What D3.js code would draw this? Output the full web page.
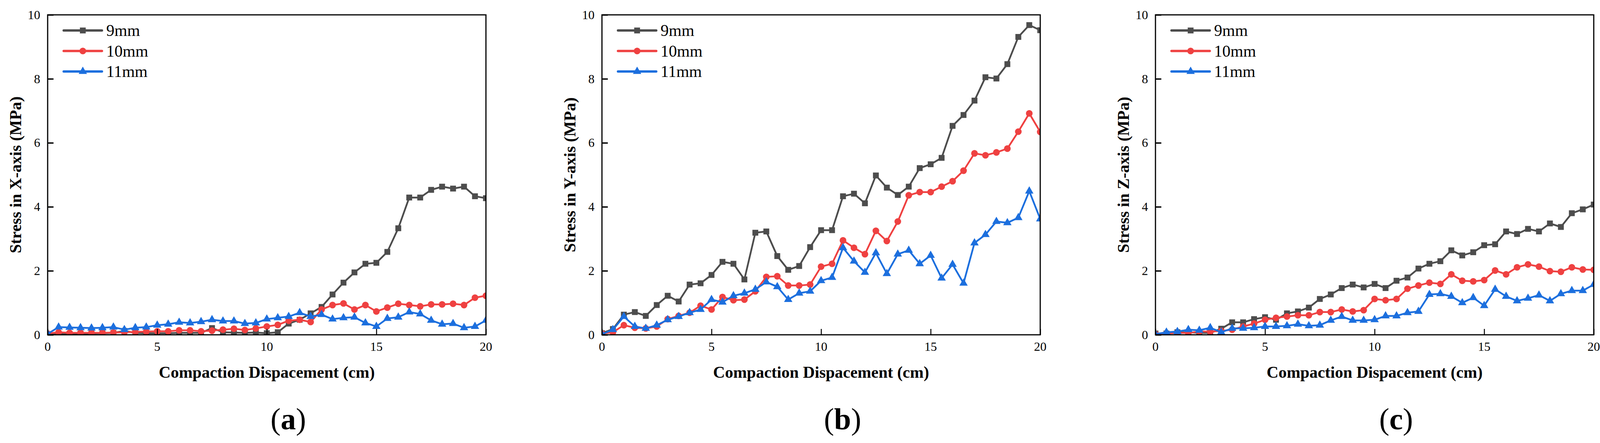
<!DOCTYPE html>
<html>
<head>
<meta charset="utf-8">
<script src="https://cdn.jsdelivr.net/npm/d3@7"></script>
<style>
  body { margin: 0; background: #fff; }
  svg text { font-family: "Liberation Serif", "DejaVu Serif", serif; }
</style>
</head>
<body>
<script>
// displacement (cm)
const displacement = [0, 0.5, 1, 1.5, 2, 2.5, 3, 3.5, 4, 4.5, 5, 5.5, 6, 6.5, 7, 7.5, 8, 8.5, 9, 9.5,
  10, 10.5, 11, 11.5, 12, 12.5, 13, 13.5, 14, 14.5, 15, 15.5, 16, 16.5, 17, 17.5, 18, 18.5, 19, 19.5, 20];

const seriesNames = ["9mm", "10mm", "11mm"];
const xTicks = [0, 5, 10, 15, 20];
const yTicks = [0, 2, 4, 6, 8, 10];
const panelTags = ["a", "b", "c"];
const yTitles = ["Stress in X-axis (MPa)", "Stress in Y-axis (MPa)", "Stress in Z-axis (MPa)"];

// (a) X-axis stress
const x9 = [0.02, 0.03, 0.03, 0.04, 0.04, 0.05, 0.06, 0.12, 0.06, 0.05, 0.05, 0.05, 0.06, 0.06, 0.06, 0.21, 0.08, 0.07, 0.06, 0.07,
  0.05, 0.08, 0.35, 0.47, 0.67, 0.87, 1.26, 1.63, 1.95, 2.22, 2.25, 2.59, 3.33, 4.29, 4.29, 4.53, 4.63, 4.57, 4.63, 4.33, 4.27];
const x10 = [0.04, 0.08, 0.06, 0.06, 0.06, 0.06, 0.07, 0.08, 0.09, 0.10, 0.11, 0.11, 0.14, 0.14, 0.11, 0.13, 0.16, 0.19, 0.15, 0.20,
  0.26, 0.31, 0.44, 0.47, 0.40, 0.79, 0.93, 0.98, 0.79, 0.93, 0.73, 0.85, 0.97, 0.93, 0.89, 0.95, 0.95, 0.97, 0.93, 1.16, 1.22];
const x11 = [0.03, 0.24, 0.23, 0.22, 0.21, 0.22, 0.24, 0.16, 0.22, 0.24, 0.30, 0.33, 0.39, 0.37, 0.41, 0.47, 0.43, 0.43, 0.35, 0.37,
  0.49, 0.53, 0.57, 0.69, 0.57, 0.63, 0.49, 0.53, 0.55, 0.37, 0.26, 0.51, 0.55, 0.71, 0.65, 0.45, 0.33, 0.35, 0.22, 0.26, 0.45];

// (b) Y-axis stress
const y9 = [0.05, 0.18, 0.63, 0.71, 0.59, 0.93, 1.22, 1.04, 1.57, 1.61, 1.87, 2.28, 2.22, 1.73, 3.19, 3.23, 2.46, 2.03, 2.15, 2.74,
  3.27, 3.27, 4.33, 4.41, 4.11, 4.98, 4.60, 4.37, 4.63, 5.21, 5.33, 5.53, 6.53, 6.87, 7.32, 8.05, 8.01, 8.46, 9.31, 9.68, 9.52];
const y10 = [0.04, 0.08, 0.30, 0.22, 0.20, 0.26, 0.49, 0.59, 0.69, 0.91, 0.79, 1.18, 1.08, 1.10, 1.36, 1.81, 1.83, 1.54, 1.54, 1.57,
  2.13, 2.22, 2.95, 2.72, 2.52, 3.25, 2.93, 3.54, 4.36, 4.46, 4.46, 4.63, 4.80, 5.13, 5.67, 5.61, 5.70, 5.82, 6.35, 6.92, 6.34];
const y11 = [0.02, 0.16, 0.57, 0.26, 0.20, 0.30, 0.47, 0.57, 0.69, 0.79, 1.10, 1.02, 1.22, 1.30, 1.42, 1.65, 1.50, 1.10, 1.30, 1.36,
  1.69, 1.79, 2.72, 2.30, 1.95, 2.56, 1.91, 2.52, 2.64, 2.22, 2.48, 1.77, 2.20, 1.61, 2.87, 3.13, 3.54, 3.50, 3.66, 4.49, 3.62];

// (c) Z-axis stress
const z9 = [0.04, 0.04, 0.08, 0.08, 0.06, 0.06, 0.19, 0.39, 0.39, 0.49, 0.55, 0.47, 0.67, 0.73, 0.85, 1.12, 1.26, 1.46, 1.57, 1.48,
  1.59, 1.46, 1.69, 1.79, 2.07, 2.22, 2.30, 2.64, 2.48, 2.58, 2.80, 2.83, 3.23, 3.15, 3.31, 3.23, 3.48, 3.37, 3.80, 3.92, 4.07];
const z10 = [0.02, 0.04, 0.06, 0.06, 0.10, 0.10, 0.12, 0.16, 0.26, 0.35, 0.47, 0.53, 0.57, 0.61, 0.61, 0.71, 0.71, 0.79, 0.73, 0.77,
  1.12, 1.08, 1.12, 1.44, 1.54, 1.63, 1.59, 1.89, 1.69, 1.67, 1.71, 2.01, 1.89, 2.11, 2.20, 2.13, 1.99, 1.97, 2.11, 2.04, 2.03];
const z11 = [0.02, 0.08, 0.10, 0.16, 0.14, 0.22, 0.08, 0.20, 0.20, 0.22, 0.26, 0.26, 0.28, 0.33, 0.28, 0.30, 0.45, 0.57, 0.45, 0.45,
  0.47, 0.59, 0.59, 0.69, 0.73, 1.26, 1.28, 1.20, 1.00, 1.16, 0.91, 1.42, 1.20, 1.06, 1.14, 1.24, 1.06, 1.28, 1.38, 1.38, 1.57];

const panelData = [[x9, x10, x11], [y9, y10, y11], [z9, z10, z11]];

const colors = ["#4d4d4d", "#ef4141", "#1c6fde"];
const shapes = [d3.symbolSquare, d3.symbolCircle, d3.symbolTriangle];
const symSizes = [225, 230, 200];

const W = 4116, H = 1134;
const svg = d3.select("body").append("svg")
  .attr("width", W)
  .attr("height", H)
  .attr("font-family", "Liberation Serif, serif");
svg.append("rect").attr("width", W).attr("height", H).attr("fill", "#fff");

const lefts = [122, 1541, 2958];
const plotW = 1122, plotTop = 38, plotBottom = 857;

const y = d3.scaleLinear().domain([0, 10]).range([plotBottom, plotTop]);

panelTags.forEach(function(tag, p) {
  const x = d3.scaleLinear().domain([0, 20]).range([lefts[p], lefts[p] + plotW]);
  const g = svg.append("g");

  // clip so the edge markers get cut by the frame
  const clipId = "clip" + p;
  svg.append("clipPath").attr("id", clipId)
    .append("rect")
    .attr("x", lefts[p]).attr("y", plotTop)
    .attr("width", plotW).attr("height", plotBottom - plotTop);

  const plot = g.append("g").attr("clip-path", "url(#" + clipId + ")");

  // lines + markers, 9mm underneath
  panelData[p].forEach(function(vals, s) {
    const pts = displacement.map(function(d, i) { return [d, vals[i]]; });
    const line = d3.line()
      .x(function(d) { return x(d[0]); })
      .y(function(d) { return y(d[1]); });
    plot.append("path")
      .datum(pts)
      .attr("d", line)
      .attr("fill", "none")
      .attr("stroke", colors[s])
      .attr("stroke-width", 4.5)
      .attr("stroke-linejoin", "round");
    plot.selectAll(".m" + s)
      .data(pts)
      .join("path")
      .attr("class", "m" + s)
      .attr("d", d3.symbol().type(shapes[s]).size(symSizes[s]))
      .attr("transform", function(d) { return "translate(" + x(d[0]) + "," + y(d[1]) + ")"; })
      .attr("fill", colors[s]);
  });

  // axes: ticks point inward
  const yAxis = d3.axisRight(y).tickValues(yTicks).tickSize(15).tickFormat("");
  const ya = g.append("g").attr("transform", "translate(" + lefts[p] + ",0)").call(yAxis);
  ya.select(".domain").remove();
  ya.selectAll("line").attr("stroke", "#000").attr("stroke-width", 3.5);

  const xAxis = d3.axisTop(x).tickValues(xTicks).tickSize(15).tickFormat("");
  const xa = g.append("g").attr("transform", "translate(0," + plotBottom + ")").call(xAxis);
  xa.select(".domain").remove();
  xa.selectAll("line").attr("stroke", "#000").attr("stroke-width", 2.5);

  // tick labels
  g.selectAll(".ylab")
    .data(yTicks)
    .join("text")
    .attr("class", "ylab")
    .attr("x", lefts[p] - 19)
    .attr("y", function(d) { return y(d); })
    .attr("dy", "0.34em")
    .attr("text-anchor", "end")
    .style("font-size", "32px")
    .text(function(d) { return d; });

  g.selectAll(".xlab")
    .data(xTicks)
    .join("text")
    .attr("class", "xlab")
    .attr("x", function(d) { return x(d); })
    .attr("y", 887)
    .attr("dy", "0.34em")
    .attr("text-anchor", "middle")
    .style("font-size", "32px")
    .text(function(d) { return d; });

  // frame
  g.append("rect")
    .attr("x", lefts[p]).attr("y", plotTop)
    .attr("width", plotW).attr("height", plotBottom - plotTop)
    .attr("fill", "none")
    .attr("stroke", "#000")
    .attr("stroke-width", 3);

  // axis titles
  g.append("text")
    .attr("transform", "translate(" + (lefts[p] - 82) + "," + ((plotTop + plotBottom) / 2) + ") rotate(-90)")
    .attr("dy", "0.34em")
    .attr("text-anchor", "middle")
    .style("font-size", "42px")
    .style("font-weight", "bold")
    .text(yTitles[p]);

  g.append("text")
    .attr("x", lefts[p] + plotW / 2)
    .attr("y", 953)
    .attr("dy", "0.34em")
    .attr("text-anchor", "middle")
    .style("font-size", "42px")
    .style("font-weight", "bold")
    .text("Compaction Dispacement (cm)");

  // legend
  const leg = g.append("g");
  seriesNames.forEach(function(name, s) {
    const ly = 78 + s * 52.5;
    leg.append("line")
      .attr("x1", lefts[p] + 41).attr("x2", lefts[p] + 139)
      .attr("y1", ly).attr("y2", ly)
      .attr("stroke", colors[s])
      .attr("stroke-width", 6)
      .attr("stroke-linecap", "round");
    leg.append("path")
      .attr("d", d3.symbol().type(shapes[s]).size(symSizes[s]))
      .attr("transform", "translate(" + (lefts[p] + 90) + "," + ly + ")")
      .attr("fill", colors[s]);
    leg.append("text")
      .attr("x", lefts[p] + 150)
      .attr("y", ly)
      .attr("dy", "0.34em")
      .style("font-size", "42px")
      .text(name);
  });

  // panel tag (a)/(b)/(c)
  const t = g.append("text")
    .attr("x", lefts[p] + plotW / 2 + 55)
    .attr("y", 1072)
    .attr("dy", "0.34em")
    .attr("text-anchor", "middle")
    .style("font-size", "78px");
  t.append("tspan").text("(");
  t.append("tspan").style("font-weight", "bold").text(tag);
  t.append("tspan").text(")");
});
</script>
</body>
</html>
